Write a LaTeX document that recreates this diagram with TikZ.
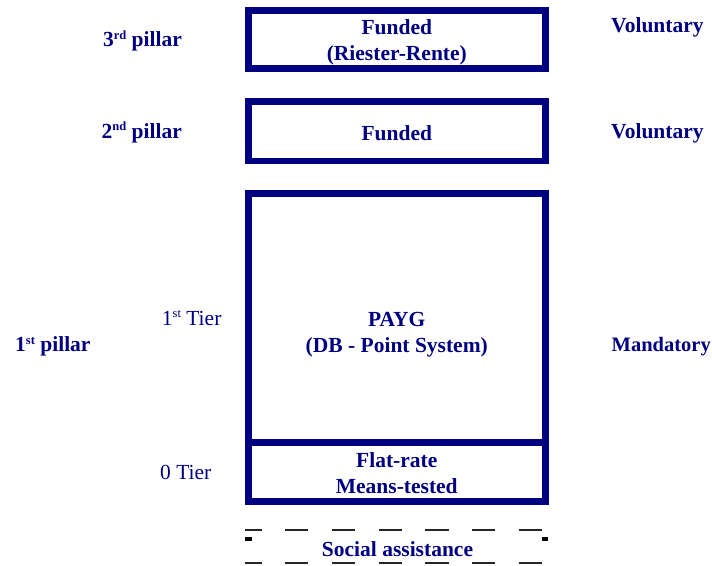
\documentclass[tikz,border=0pt]{standalone}
\usepackage{fontspec}
\setmainfont{Liberation Serif}
\definecolor{navy}{RGB}{0,0,128}
\newcommand\supx[1]{\raisebox{7.5pt}{\fontsize{12.5}{12.5}\selectfont #1}}
\begin{document}
\begin{tikzpicture}[x=1pt,y=-1pt,
  box/.style={draw=navy,line width=6.7pt,minimum width=297pt,inner sep=0pt,outer sep=0pt},
  lbl/.style={text=navy,font=\fontsize{21.5}{25.5}\selectfont\bfseries,inner sep=0pt,align=center},
  tier/.style={text=navy,font=\fontsize{21.5}{25.5}\selectfont,inner sep=0pt},
  dashline/.style={black!85,line width=2.4pt,dash pattern=on 23.3pt off 23.4pt,dash phase=6.6pt}
  ]
\useasboundingbox (0,0) rectangle (712,565);
% boxes
\node[box,minimum height=57.6pt] (p3) at (396.8,39.5) {};
\node[box,minimum height=59.3pt] (p2) at (396.8,131.35) {};
\node[box,minimum height=248.6pt] (t1) at (396.8,318) {};
\node[box,minimum height=59pt] (t0) at (396.8,471.8) {};
% box texts
\node[lbl] (p3txt) at (396.8,42.4) {Funded\\(Riester-Rente)};
\node[lbl,anchor=base] (p2txt) at (396.8,140) {Funded};
\node[lbl] (t1txt) at (396.8,334.7) {PAYG\\(DB - Point System)};
\node[lbl] (t0txt) at (396.8,473) {Flat-rate\\Means-tested};
% dashed social assistance box
\coordinate (da) at (245,530);
\coordinate (db) at (548.3,530);
\coordinate (dc) at (245,562.7);
\coordinate (dd) at (548.3,562.7);
\draw[dashline] (da) -- (db);
\draw[dashline] (dc) -- (dd);
\fill[black] (245,536.7) rectangle (251.7,540.7);
\fill[black] (541.7,536.7) rectangle (548.3,540.7);
\node[lbl,anchor=base] (sa) at (397.5,556.7) {Social assistance};
% left labels
\node[lbl,anchor=base east] (l3) at (182,46.7) {3\supx{rd} pillar};
\node[lbl,anchor=base east] (l2) at (182,138.3) {2\supx{nd} pillar};
\node[lbl,anchor=base west] (l1) at (15,351.7) {1\supx{st} pillar};
\node[tier,anchor=base west] (tr1) at (161.7,325) {1\supx{st} Tier};
\node[tier,anchor=base west] (tr0) at (160,479.3) {0 Tier};
% right labels
\node[lbl,anchor=base west] (r3) at (611,32.5) {Voluntary};
\node[lbl,anchor=base west] (r2) at (611,138.3) {Voluntary};
\node[lbl,anchor=base east,font=\fontsize{20.5}{24}\selectfont\bfseries] (r1) at (711,351.7) {Mandatory};
\end{tikzpicture}
\end{document}
